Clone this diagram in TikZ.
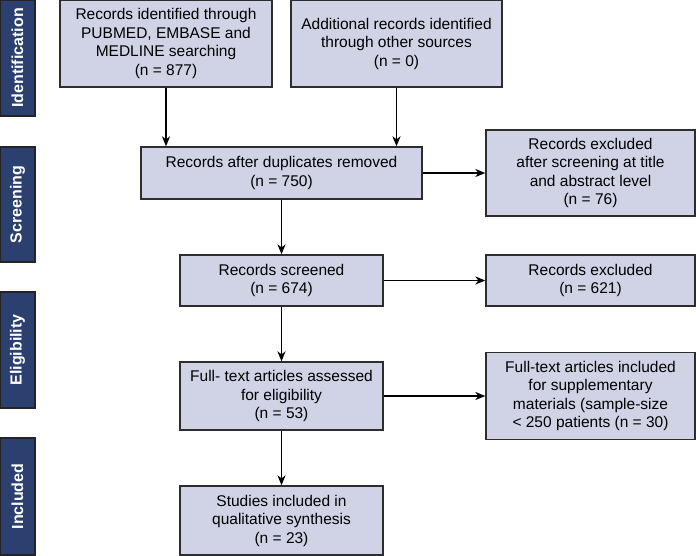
\documentclass[tikz,border=0pt]{standalone}
\usepackage{fontspec}
\setmainfont{Liberation Sans}
\usetikzlibrary{arrows.meta}
\definecolor{boxfill}{RGB}{208,211,230}
\definecolor{barfill}{RGB}{44,64,112}
\definecolor{edge}{RGB}{45,45,45}
\tikzset{
  flowbox/.style={draw=edge, line width=1.3pt, fill=boxfill, inner sep=0pt, align=center,
    font=\fontsize{15.5}{18.5}\selectfont},
  phasebar/.style={draw=edge!80!black, line width=1.3pt, fill=barfill, rotate=90, inner sep=0pt,
    minimum height=35pt, text=white, font=\fontsize{16}{18}\selectfont\bfseries},
  flowarrow/.style={line width=1.4pt, draw=black, -{Stealth[length=10pt,width=8pt,inset=3pt]}}
}
\begin{document}
\begin{tikzpicture}[x=1pt,y=-1pt]
\useasboundingbox (0,0) rectangle (696,555);
% phase bars
\node[phasebar, minimum width=116pt] (pid) at (17.5,58) {Identification};
\node[phasebar, minimum width=115pt] (psc) at (17.5,204.5) {Screening};
\node[phasebar, minimum width=116pt] (pel) at (17.5,350) {Eligibility};
\node[phasebar, minimum width=117pt] (pin) at (17.5,496.5) {Included};
% boxes
\node[flowbox, minimum width=212pt, minimum height=87pt] (b1) at (166,43.5)
  {Records identified through\\PUBMED, EMBASE and\\MEDLINE searching\\(n = 877)};
\node[flowbox, minimum width=211pt, minimum height=87pt] (b2) at (396.5,43.5)
  {Additional records identified\\through other sources\\(n = 0)};
\node[flowbox, minimum width=281pt, minimum height=52pt] (b3) at (281.5,173)
  {Records after duplicates removed\\(n = 750)};
\node[flowbox, minimum width=209pt, minimum height=86pt] (e1) at (590.5,173)
  {Records excluded\\after screening at title\\and abstract level\\(n = 76)};
\node[flowbox, minimum width=203pt, minimum height=51pt] (b4) at (281.5,280.5)
  {Records screened\\(n = 674)};
\node[flowbox, minimum width=209pt, minimum height=51pt] (e2) at (590.5,280.5)
  {Records excluded\\(n = 621)};
\node[flowbox, minimum width=203pt, minimum height=68pt] (b5) at (281.5,396)
  {Full- text articles assessed\\for eligibility\\(n = 53)};
\node[flowbox, minimum width=209pt, minimum height=87pt] (e3) at (590.5,396)
  {Full-text articles included\\for supplementary\\materials (sample-size\\< 250 patients (n = 30)};
\node[flowbox, minimum width=203pt, minimum height=69pt] (b6) at (281.5,520.5)
  {Studies included in\\qualitative synthesis\\(n = 23)};
% arrows
\draw[flowarrow] (b1.south) -- (b1.south |- b3.north);
\draw[flowarrow] (b2.south) -- (b2.south |- b3.north);
\draw[flowarrow] (b3.south) -- (b4.north);
\draw[flowarrow] (b4.south) -- (b5.north);
\draw[flowarrow] (b5.south) -- (b6.north);
\draw[flowarrow] (b3.east) -- (e1.west);
\draw[flowarrow] (b4.east) -- (e2.west);
\draw[flowarrow] (b5.east) -- (e3.west);
\end{tikzpicture}
\end{document}
